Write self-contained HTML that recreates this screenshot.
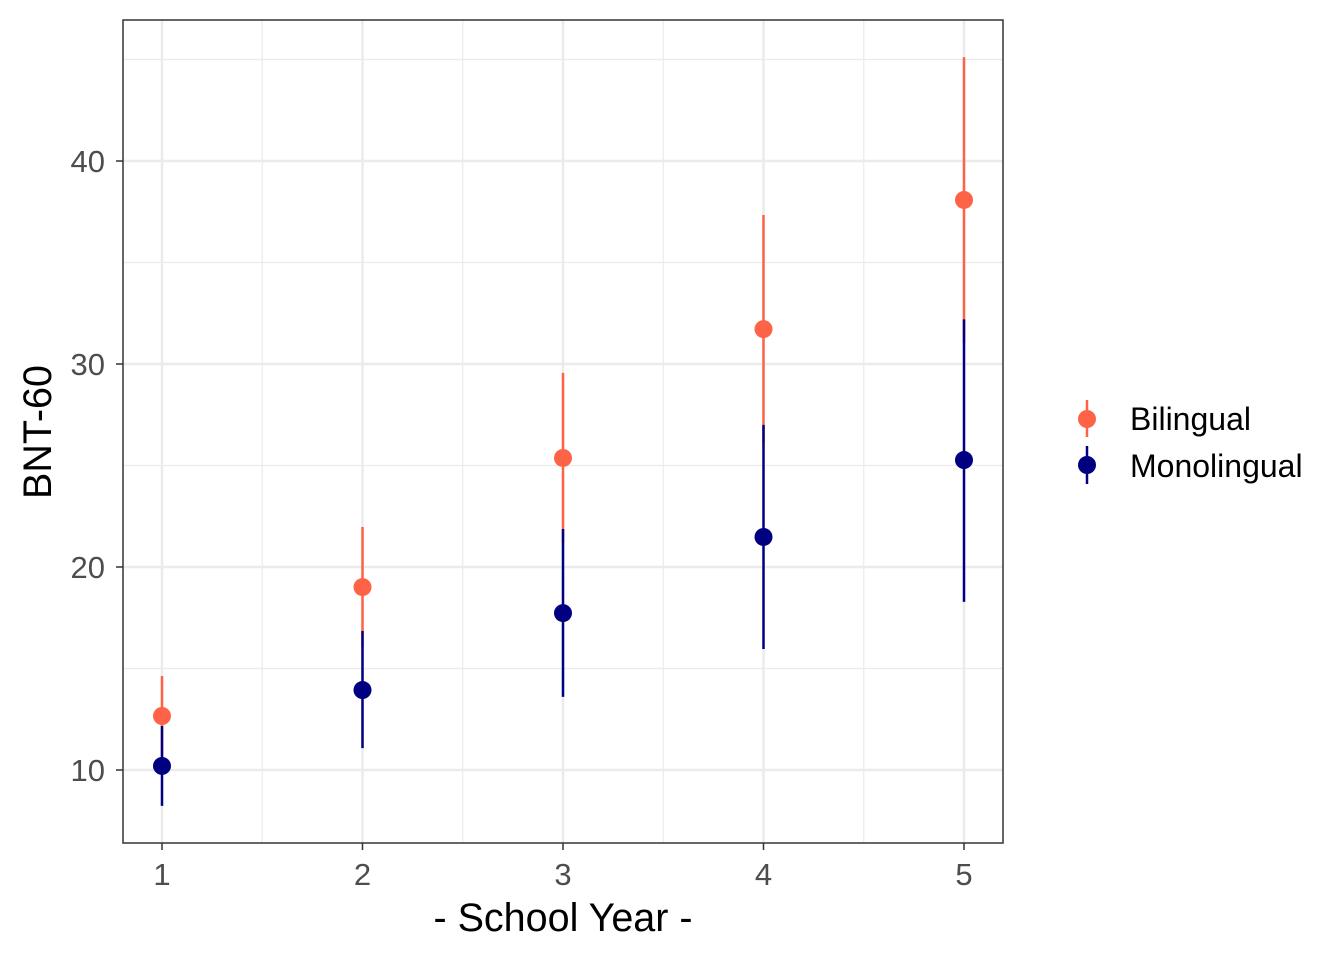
<!DOCTYPE html>
<html><head><meta charset="utf-8"><style>
body{margin:0;background:#fff;}
text{font-family:"Liberation Sans",sans-serif;}
</style></head><body>
<svg id="chart" width="1344" height="960" xmlns="http://www.w3.org/2000/svg">
<rect width="1344" height="960" fill="#fff"/>
<g id="grid"></g>
<g id="marks"></g>
<rect x="123" y="20" width="880" height="823" fill="none" stroke="#333" stroke-width="1.5"/>
<g id="axes"></g>
<text x="563" y="931" font-size="39.5" text-anchor="middle" fill="#000">- School Year -</text>
<text transform="translate(51,432) rotate(-90)" font-size="39.5" text-anchor="middle" fill="#000">BNT-60</text>
<g>
<line x1="1087" y1="400" x2="1087" y2="437" stroke="#FF6347" stroke-width="2.5"/>
<circle cx="1087" cy="419" r="9" fill="#FF6347"/>
<text x="1130" y="430" font-size="32">Bilingual</text>
<line x1="1087" y1="446" x2="1087" y2="484" stroke="#000080" stroke-width="2.5"/>
<circle cx="1087" cy="465" r="9" fill="#000080"/>
<text x="1130" y="477" font-size="32">Monolingual</text>
</g>
</svg>
<script>
const years=[1,2,3,4,5];
const biMean=[12.66,19.01,25.37,31.72,38.08];
const biLow=[10.69,16.05,21.18,26.1,31.04];
const biHigh=[14.63,21.97,29.56,37.34,45.12];
const monoMean=[10.2,13.94,17.73,21.48,25.27];
const monoLow=[8.23,11.08,13.6,15.96,18.28];
const monoHigh=[12.17,16.85,21.87,27.0,32.2];
const yTicks=[10,20,30,40];
const yMinor=[15,25,35,45];
const xMinor=[1.5,2.5,3.5,4.5];
const NS='http://www.w3.org/2000/svg';
const X=v=>162+(v-1)*200.5;
const Y=v=>770-(v-10)*20.3;
function mk(tag,attrs,parent){const e=document.createElementNS(NS,tag);for(const k in attrs)e.setAttribute(k,attrs[k]);parent.appendChild(e);return e;}
const grid=document.getElementById('grid'),marks=document.getElementById('marks'),axes=document.getElementById('axes');
yMinor.forEach(v=>{const l=mk('line',{x1:123,x2:1003,y1:Y(v),y2:Y(v),stroke:'#ebebeb','stroke-width':1.2},grid);

});
xMinor.forEach(v=>{const l=mk('line',{x1:X(v),x2:X(v),y1:20,y2:843,stroke:'#ebebeb','stroke-width':1.2},grid);

});
yTicks.forEach(v=>{const l=mk('line',{x1:123,x2:1003,y1:Y(v),y2:Y(v),stroke:'#ebebeb','stroke-width':2.5},grid);


const t=mk('line',{x1:116,x2:123,y1:Y(v),y2:Y(v),stroke:'#333','stroke-width':1.5},axes);


const tx=mk('text',{x:105,y:Y(v)+11,'font-size':31,'text-anchor':'end',fill:'#4d4d4d'},axes);tx.textContent=v;

});
years.forEach(v=>{const l=mk('line',{x1:X(v),x2:X(v),y1:20,y2:843,stroke:'#ebebeb','stroke-width':2.5},grid);


const t=mk('line',{x1:X(v),x2:X(v),y1:843,y2:850,stroke:'#333','stroke-width':1.5},axes);


const tx=mk('text',{x:X(v),y:885,'font-size':31,'text-anchor':'middle',fill:'#4d4d4d'},axes);tx.textContent=v;

});
function series(mean,low,high,color,name){years.forEach((yr,i)=>{
const l=mk('line',{x1:X(yr),x2:X(yr),y1:Y(low[i]),y2:Y(high[i]),stroke:color,'stroke-width':2.5},marks);


const c=mk('circle',{cx:X(yr),cy:Y(mean[i]),r:9,fill:color},marks);

});}
series(biMean,biLow,biHigh,'#FF6347','bilingual');
series(monoMean,monoLow,monoHigh,'#000080','monolingual');
</script>
</body></html>
